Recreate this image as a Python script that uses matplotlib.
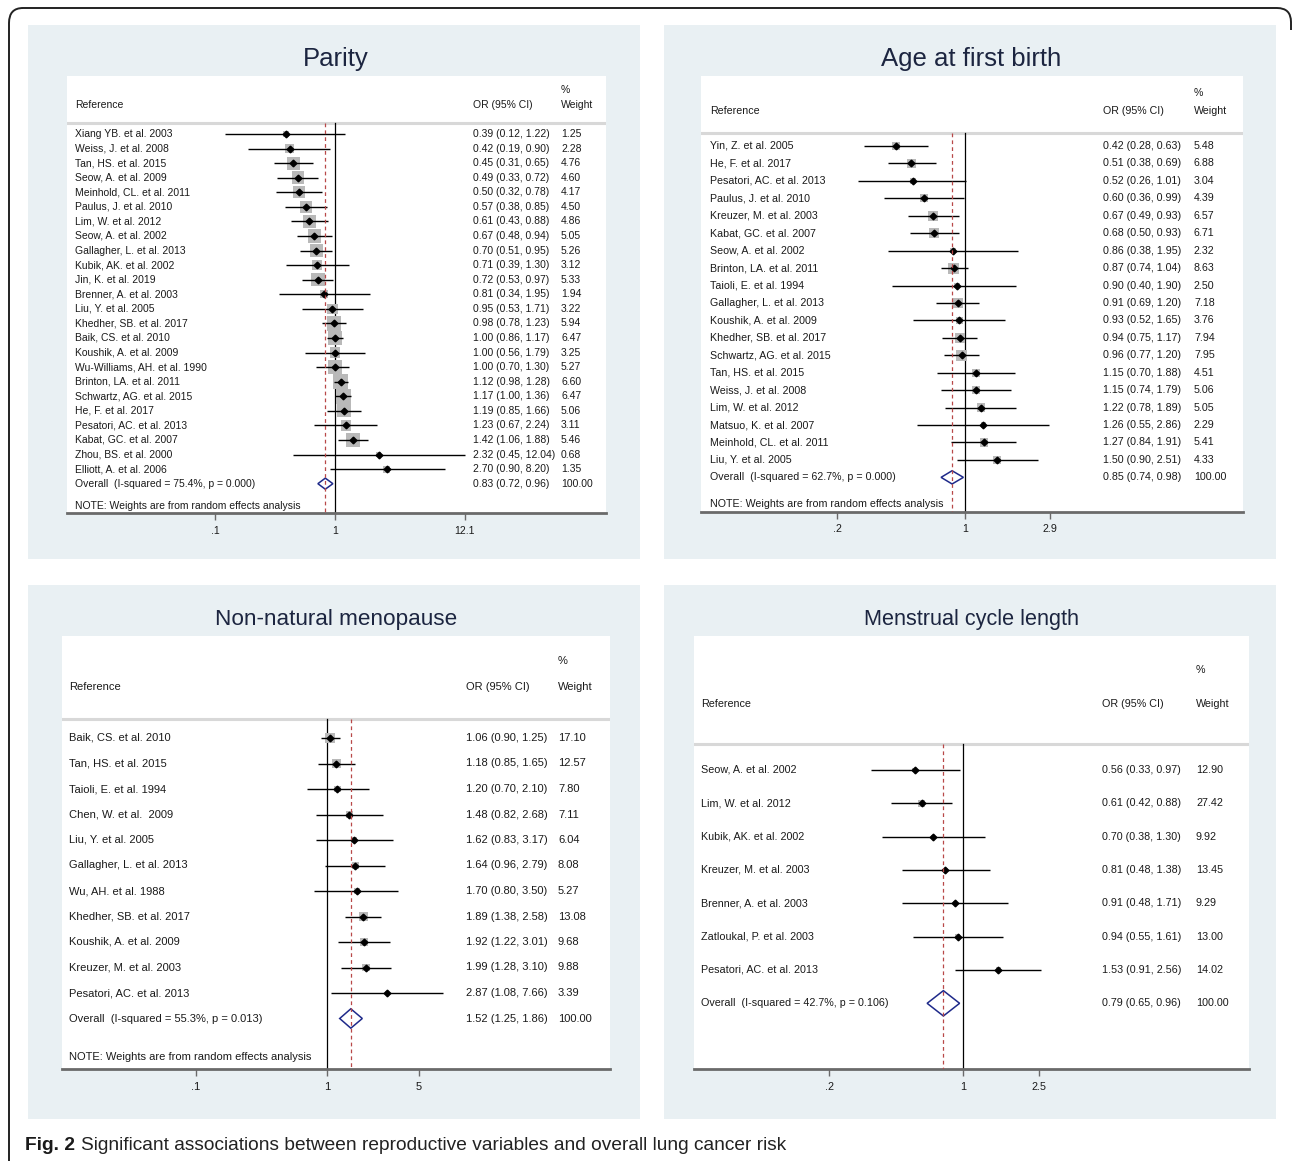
import numpy as np
import matplotlib
matplotlib.use("Agg")
import matplotlib.pyplot as plt
from matplotlib.transforms import blended_transform_factory
from matplotlib.path import Path
from matplotlib.patches import PathPatch, Rectangle
from matplotlib.ticker import NullLocator

FONT = ['Liberation Sans Narrow', 'Liberation Sans', 'DejaVu Sans']
plt.rcParams['font.family'] = FONT

# ---------------- data ----------------
parity_names = ["Xiang YB. et al. 2003", "Weiss, J. et al. 2008", "Tan, HS. et al. 2015",
                "Seow, A. et al. 2009", "Meinhold, CL. et al. 2011", "Paulus, J. et al. 2010",
                "Lim, W. et al. 2012", "Seow, A. et al. 2002", "Gallagher, L. et al. 2013",
                "Kubik, AK. et al. 2002", "Jin, K. et al. 2019", "Brenner, A. et al. 2003",
                "Liu, Y. et al. 2005", "Khedher, SB. et al. 2017", "Baik, CS. et al. 2010",
                "Koushik, A. et al. 2009", "Wu-Williams, AH. et al. 1990", "Brinton, LA. et al. 2011",
                "Schwartz, AG. et al. 2015", "He, F. et al. 2017", "Pesatori, AC. et al. 2013",
                "Kabat, GC. et al. 2007", "Zhou, BS. et al. 2000", "Elliott, A. et al. 2006"]
parity_or = [0.39, 0.42, 0.45, 0.49, 0.50, 0.57, 0.61, 0.67, 0.70, 0.71, 0.72, 0.81,
             0.95, 0.98, 1.00, 1.00, 1.00, 1.12, 1.17, 1.19, 1.23, 1.42, 2.32, 2.70]
parity_lo = [0.12, 0.19, 0.31, 0.33, 0.32, 0.38, 0.43, 0.48, 0.51, 0.39, 0.53, 0.34,
             0.53, 0.78, 0.86, 0.56, 0.70, 0.98, 1.00, 0.85, 0.67, 1.06, 0.45, 0.90]
parity_hi = [1.22, 0.90, 0.65, 0.72, 0.78, 0.85, 0.88, 0.94, 0.95, 1.30, 0.97, 1.95,
             1.71, 1.23, 1.17, 1.79, 1.30, 1.28, 1.36, 1.66, 2.24, 1.88, 12.04, 8.20]
parity_w = [1.25, 2.28, 4.76, 4.60, 4.17, 4.50, 4.86, 5.05, 5.26, 3.12, 5.33, 1.94,
            3.22, 5.94, 6.47, 3.25, 5.27, 6.60, 6.47, 5.06, 3.11, 5.46, 0.68, 1.35]
parity_overall = (0.83, 0.72, 0.96, 75.4, "0.000")

afb_names = ["Yin, Z. et al. 2005", "He, F. et al. 2017", "Pesatori, AC. et al. 2013",
             "Paulus, J. et al. 2010", "Kreuzer, M. et al. 2003", "Kabat, GC. et al. 2007",
             "Seow, A. et al. 2002", "Brinton, LA. et al. 2011", "Taioli, E. et al. 1994",
             "Gallagher, L. et al. 2013", "Koushik, A. et al. 2009", "Khedher, SB. et al. 2017",
             "Schwartz, AG. et al. 2015", "Tan, HS. et al. 2015", "Weiss, J. et al. 2008",
             "Lim, W. et al. 2012", "Matsuo, K. et al. 2007", "Meinhold, CL. et al. 2011",
             "Liu, Y. et al. 2005"]
afb_or = [0.42, 0.51, 0.52, 0.60, 0.67, 0.68, 0.86, 0.87, 0.90, 0.91, 0.93, 0.94, 0.96,
          1.15, 1.15, 1.22, 1.26, 1.27, 1.50]
afb_lo = [0.28, 0.38, 0.26, 0.36, 0.49, 0.50, 0.38, 0.74, 0.40, 0.69, 0.52, 0.75, 0.77,
          0.70, 0.74, 0.78, 0.55, 0.84, 0.90]
afb_hi = [0.63, 0.69, 1.01, 0.99, 0.93, 0.93, 1.95, 1.04, 1.90, 1.20, 1.65, 1.17, 1.20,
          1.88, 1.79, 1.89, 2.86, 1.91, 2.51]
afb_w = [5.48, 6.88, 3.04, 4.39, 6.57, 6.71, 2.32, 8.63, 2.50, 7.18, 3.76, 7.94, 7.95,
         4.51, 5.06, 5.05, 2.29, 5.41, 4.33]
afb_overall = (0.85, 0.74, 0.98, 62.7, "0.000")

nnm_names = ["Baik, CS. et al. 2010", "Tan, HS. et al. 2015", "Taioli, E. et al. 1994",
             "Chen, W. et al.  2009", "Liu, Y. et al. 2005", "Gallagher, L. et al. 2013",
             "Wu, AH. et al. 1988", "Khedher, SB. et al. 2017", "Koushik, A. et al. 2009",
             "Kreuzer, M. et al. 2003", "Pesatori, AC. et al. 2013"]
nnm_or = [1.06, 1.18, 1.20, 1.48, 1.62, 1.64, 1.70, 1.89, 1.92, 1.99, 2.87]
nnm_lo = [0.90, 0.85, 0.70, 0.82, 0.83, 0.96, 0.80, 1.38, 1.22, 1.28, 1.08]
nnm_hi = [1.25, 1.65, 2.10, 2.68, 3.17, 2.79, 3.50, 2.58, 3.01, 3.10, 7.66]
nnm_w = [17.10, 12.57, 7.80, 7.11, 6.04, 8.08, 5.27, 13.08, 9.68, 9.88, 3.39]
nnm_overall = (1.52, 1.25, 1.86, 55.3, "0.013")

mcl_names = ["Seow, A. et al. 2002", "Lim, W. et al. 2012", "Kubik, AK. et al. 2002",
             "Kreuzer, M. et al. 2003", "Brenner, A. et al. 2003", "Zatloukal, P. et al. 2003",
             "Pesatori, AC. et al. 2013"]
mcl_or = [0.56, 0.61, 0.70, 0.81, 0.91, 0.94, 1.53]
mcl_lo = [0.33, 0.42, 0.38, 0.48, 0.48, 0.55, 0.91]
mcl_hi = [0.97, 0.88, 1.30, 1.38, 1.71, 1.61, 2.56]
mcl_w = [12.90, 27.42, 9.92, 13.45, 9.29, 13.00, 14.02]
mcl_overall = (0.79, 0.65, 0.96, 42.7, "0.106")

titles = ["Parity", "Age at first birth", "Non-natural menopause", "Menstrual cycle length"]
tick_vals = [[0.1, 1, 12.1], [0.2, 1, 2.9], [0.1, 1, 5], [0.2, 1, 2.5]]
tick_labels = [[".1", "1", "12.1"], [".2", "1", "2.9"], [".1", "1", "5"], [".2", "1", "2.5"]]
show_note = [True, True, True, False]
note_text = "NOTE: Weights are from random effects analysis"
caption_bold = "Fig. 2"
caption_text = "Significant associations between reproductive variables and overall lung cancer risk"

series = [
    (parity_names, parity_or, parity_lo, parity_hi, parity_w, parity_overall),
    (afb_names, afb_or, afb_lo, afb_hi, afb_w, afb_overall),
    (nnm_names, nnm_or, nnm_lo, nnm_hi, nnm_w, nnm_overall),
    (mcl_names, mcl_or, mcl_lo, mcl_hi, mcl_w, mcl_overall),
]

# ---------------- layout (pixels in a 1292 x 1161 canvas) ----------------
W, H = 1292, 1161
layout = [
    dict(bg=(28, 25, 640, 559), box=(67, 76, 606, 513), sep=123, r0=134, d=14.57,
         ref_y=105, pct_y=90, px1=335, ppd=120, title_xy=(336, 59), name_x=75, or_x=473,
         w_x=561, fs=7.5, tfs=18.5, k=15),
    dict(bg=(664, 25, 1276, 559), box=(701, 76, 1243, 512), sep=133, r0=146, d=17.44,
         ref_y=111, pct_y=93, px1=965, ppd=183, title_xy=(971, 59), name_x=710, or_x=1103,
         w_x=1194, fs=7.65, tfs=18.5, k=11),
    dict(bg=(28, 585, 640, 1119), box=(62, 636, 610, 1069), sep=719, r0=738, d=25.5,
         ref_y=687, pct_y=661, px1=327, ppd=131, title_xy=(336, 619), name_x=69, or_x=466,
         w_x=558, fs=8.0, tfs=16.2, k=10),
    dict(bg=(664, 585, 1276, 1119), box=(694, 636, 1249, 1069), sep=744, r0=770, d=33.33,
         ref_y=704, pct_y=670, px1=963, ppd=191.7, title_xy=(971, 619), name_x=701, or_x=1102,
         w_x=1196, fs=7.75, tfs=15.6, k=7),
]

BG = "#e9f0f3"
TXT = "#1a1a1a"
TITLE = "#1c2540"

fig = plt.figure(figsize=(W / 100, H / 100), dpi=100)
base = fig.add_axes([0, 0, 1, 1])
base.set_xlim(0, W)
base.set_ylim(H, 0)
base.axis("off")

# outer frame (rounded top corners, open at the bottom)
verts = [(9, H), (9, 23), (9, 8), (23, 8), (1277, 8), (1291, 8), (1291, 22), (1291, 30)]
codes = [Path.MOVETO, Path.LINETO, Path.CURVE3, Path.CURVE3, Path.LINETO,
         Path.CURVE3, Path.CURVE3, Path.LINETO]
base.add_patch(PathPatch(Path(verts, codes), facecolor="none", edgecolor="#222222", lw=1.4))

for (names, est, lo, hi, wt, overall), L, title, tv, tl, note in zip(
        series, layout, titles, tick_vals, tick_labels, show_note):
    x0, y0, x1, y1 = L["bg"]
    base.add_patch(Rectangle((x0, y0), x1 - x0, y1 - y0, facecolor=BG, edgecolor="none"))
    base.text(*L["title_xy"], title, fontsize=L["tfs"], color=TITLE,
              ha="center", va="center")

    bl, bt, br, bb = L["box"]
    ax = fig.add_axes([bl / W, 1 - bb / H, (br - bl) / W, (bb - bt) / H])
    ax.set_facecolor("white")
    ax.set_xscale("log")
    ax.set_xlim(10 ** ((bl - L["px1"]) / L["ppd"]), 10 ** ((br - L["px1"]) / L["ppd"]))
    r0, d = L["r0"], L["d"]
    ax.set_ylim((bb - r0) / d, (bt - r0) / d)
    for s in ("top", "left", "right"):
        ax.spines[s].set_visible(False)
    ax.spines["bottom"].set_color("#6a6a6a")
    ax.spines["bottom"].set_linewidth(2)
    ax.set_yticks([])
    ax.set_xticks(tv)
    ax.set_xticklabels(tl)
    ax.xaxis.set_minor_locator(NullLocator())
    ax.tick_params(axis="x", length=5, width=1, color="#6a6a6a", pad=4,
                   labelsize=L["fs"], labelcolor=TXT)

    n = len(names)
    rows = np.arange(n)
    sep = (L["sep"] - r0) / d
    bottom = (bb - r0) / d
    e, lo_o, hi_o, i2, p = overall

    ax.axhline(sep, color="#d8d8d8", lw=2.2, zorder=1)
    ax.plot([1, 1], [sep, bottom], color="black", lw=0.9, zorder=2)

    wt_a = np.array(wt)
    side_pt = L["k"] * np.sqrt(wt_a / wt_a.max()) * 0.72
    ax.scatter(est, rows, marker="s", s=side_pt ** 2, color="#b9b9b9", lw=0, zorder=3)
    ax.hlines(rows, lo, hi, color="black", lw=1.0, zorder=4)
    ax.plot(est, rows, "D", ms=3.4, color="black", zorder=5, lw=0)

    yo = n
    hh = 0.38
    ax.fill([lo_o, e, hi_o, e], [yo, yo - hh, yo, yo + hh], facecolor="white",
            edgecolor="#1f2a8a", lw=1.1, zorder=5)
    ax.plot([e, e], [sep, bottom], color="#b84848", lw=0.9, dashes=(3, 2.5), zorder=6)

    tr = blended_transform_factory(ax.transAxes, ax.transData)
    fx = lambda px: (px - bl) / (br - bl)
    fs = L["fs"]
    ref = (L["ref_y"] - r0) / d
    pct = (L["pct_y"] - r0) / d
    kw = dict(transform=tr, fontsize=fs, color=TXT, va="center", ha="left")
    ax.text(fx(L["name_x"]), ref, "Reference", **kw)
    ax.text(fx(L["or_x"]), ref, "OR (95% CI)", **kw)
    ax.text(fx(L["w_x"]), pct, "%", **kw)
    ax.text(fx(L["w_x"]), ref, "Weight", **kw)
    for i in range(n):
        ax.text(fx(L["name_x"]), i, names[i], **kw)
        ax.text(fx(L["or_x"]), i, f"{est[i]:.2f} ({lo[i]:.2f}, {hi[i]:.2f})", **kw)
        ax.text(fx(L["w_x"]), i, f"{wt[i]:.2f}", **kw)
    ax.text(fx(L["name_x"]), yo, f"Overall  (I-squared = {i2:.1f}%, p = {p})", **kw)
    ax.text(fx(L["or_x"]), yo, f"{e:.2f} ({lo_o:.2f}, {hi_o:.2f})", **kw)
    ax.text(fx(L["w_x"]), yo, "100.00", **kw)
    if note:
        ax.text(fx(L["name_x"]), yo + 1.5, note_text, **kw)

t = base.text(25, 1145, caption_bold, fontsize=13.8, fontweight="bold", color=TXT,
              va="center", ha="left")
base.annotate(caption_text, xy=(1, 0.5), xycoords=t, xytext=(4, 0),
              textcoords="offset points", fontsize=13.8, color="#222222",
              va="center", ha="left")

fig.savefig("out.png", dpi=100, facecolor="white")
